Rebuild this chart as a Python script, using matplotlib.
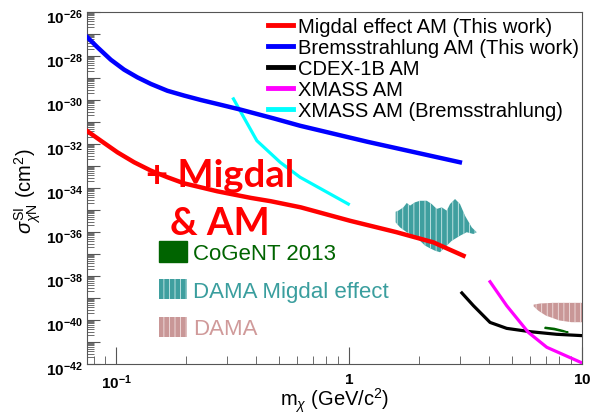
import numpy as np
import matplotlib
matplotlib.use("Agg")
from matplotlib import pyplot as plt
from matplotlib import transforms
from matplotlib.lines import Line2D
from matplotlib.patches import Patch, Polygon
from matplotlib.ticker import LogLocator, FuncFormatter, NullFormatter

plt.rcParams['font.family'] = ['Liberation Sans', 'DejaVu Sans']
plt.rcParams['mathtext.fontset'] = 'custom'
plt.rcParams['mathtext.rm'] = 'Liberation Sans'
plt.rcParams['mathtext.it'] = 'Liberation Sans:italic'
plt.rcParams['mathtext.bf'] = 'Liberation Sans:bold'
plt.rcParams['hatch.linewidth'] = 0.6

# exclusion / allowed curves: mass in GeV, log10 of cross section in cm^2
migdal_m = [0.0753, 0.0860, 0.1014, 0.1195, 0.141, 0.166, 0.196, 0.231, 0.272,
            0.321, 0.379, 0.461, 0.621, 1.01, 1.60, 2.30, 3.10]
migdal_logs = [-31.42, -31.85, -32.38, -32.83, -33.21, -33.51, -33.79, -33.97, -34.15,
               -34.30, -34.45, -34.60, -34.88, -35.49, -36.01, -36.47, -37.08]

brems_m = [0.0753, 0.0831, 0.0949, 0.1082, 0.1234, 0.141, 0.166, 0.196, 0.231,
           0.272, 0.343, 0.476, 0.616, 1.20, 2.99]
brems_logs = [-27.15, -27.60, -28.17, -28.62, -28.97, -29.27, -29.58, -29.80, -30.00,
              -30.18, -30.44, -30.84, -31.17, -31.90, -32.83]

cdex_m = [3.05, 3.42, 4.03, 4.75, 5.98, 7.79, 10.0]
cdex_logs = [-38.77, -39.35, -40.11, -40.38, -40.53, -40.65, -40.71]

xmass_m = [4.03, 4.75, 5.88, 7.06, 10.0]
xmass_logs = [-38.26, -39.35, -40.56, -41.24, -41.95]

xmass_brems_m = [0.319, 0.402, 0.506, 0.616, 0.993]
xmass_brems_logs = [-29.95, -31.85, -32.83, -33.51, -34.73]

# allowed regions (closed contours)
dama_migdal_m = [1.585, 1.628, 1.711, 1.769, 1.827, 1.920, 2.017, 2.156, 2.265,
                 2.379, 2.500, 2.627, 2.713, 2.851, 2.995, 3.147, 3.363, 3.532,
                 3.416, 3.200, 2.995, 2.759, 2.582, 2.458, 2.339, 2.227, 2.120,
                 2.017, 1.888, 1.769, 1.655, 1.585]
dama_migdal_logs = [-35.08, -35.03, -34.88, -34.68, -34.80, -34.65, -34.58, -34.58, -34.73,
                    -34.95, -34.88, -35.03, -34.73, -34.50, -34.73, -35.26, -35.79, -36.01,
                    -36.09, -36.01, -36.17, -36.40, -36.70, -36.92, -36.85, -36.74, -36.62,
                    -36.40, -36.17, -36.01, -35.79, -35.56]

dama_m = [6.2, 6.6, 7.5, 9.0, 10.5, 10.5, 9.0, 8.0, 7.0, 6.5, 6.2]
dama_logs = [-39.30, -39.25, -39.22, -39.22, -39.22, -40.10, -40.10, -40.02, -39.80, -39.58, -39.38]

cogent_m = [6.94, 7.6, 8.3, 8.73, 8.3, 7.6, 6.94]
cogent_logs = [-40.33, -40.38, -40.48, -40.56, -40.53, -40.44, -40.38]

fig = plt.figure(figsize=(5.98, 4.14), dpi=100)
ax = fig.add_axes([87 / 598, 1 - 365 / 414, 495 / 598, 352 / 414])


def sig(logs):
    return 10.0 ** np.asarray(logs)


teal = '#3f9f9f'
rose = '#c99797'

ax.add_patch(Polygon(np.column_stack([dama_migdal_m, sig(dama_migdal_logs)]), closed=True,
                     facecolor=teal, edgecolor='#cfeaea', hatch='|||', linewidth=0, zorder=2))
ax.add_patch(Polygon(np.column_stack([dama_m, sig(dama_logs)]), closed=True,
                     facecolor=rose, edgecolor='#f2e2e2', hatch='|||', linewidth=0, zorder=2))
ax.add_patch(Polygon(np.column_stack([cogent_m, sig(cogent_logs)]), closed=True,
                     facecolor='#006400', edgecolor='#006400', linewidth=1, zorder=2))

ax.plot(xmass_brems_m, sig(xmass_brems_logs), color='#00ffff', lw=2.3, zorder=3)
ax.plot(brems_m, sig(brems_logs), color='#0000ff', lw=3.2, zorder=4, solid_joinstyle='round')
ax.plot(migdal_m, sig(migdal_logs), color='#ff0000', lw=3.2, zorder=4, solid_joinstyle='round')
ax.plot(cdex_m, sig(cdex_logs), color='black', lw=2.3, zorder=3, solid_joinstyle='round')
ax.plot(xmass_m, sig(xmass_logs), color='#ff00ff', lw=2.3, zorder=3, solid_joinstyle='round')

ax.set_xscale('log')
ax.set_yscale('log')
ax.set_xlim(0.075, 10)
ax.set_ylim(1e-42, 1e-26)

# ROOT-like axes: ticks inside, bold powers of ten
ax.yaxis.set_major_locator(LogLocator(base=10, numticks=30))
ax.yaxis.set_minor_locator(LogLocator(base=10, subs=np.arange(2, 10), numticks=30))
ax.yaxis.set_major_formatter(FuncFormatter(
    lambda v, p: r'$\mathbf{10^{%d}}$' % round(np.log10(v)) if round(np.log10(v)) % 2 == 0 else ''))
ax.yaxis.set_minor_formatter(NullFormatter())

ax.xaxis.set_major_locator(LogLocator(base=10, numticks=10))
ax.xaxis.set_minor_locator(LogLocator(base=10, subs=np.arange(2, 10), numticks=10))


def xfmt(v, p):
    e = round(np.log10(v))
    if e == 0:
        return r'$\mathbf{1}$'
    if e == 1:
        return r'$\mathbf{10}$'
    return r'$\mathbf{10^{%d}}$' % e


ax.xaxis.set_major_formatter(FuncFormatter(xfmt))
ax.xaxis.set_minor_formatter(NullFormatter())

ax.tick_params(which='both', direction='in', colors='#555555', labelcolor='black', labelsize=11)
ax.tick_params(axis='x', which='major', length=12, pad=6)
ax.tick_params(axis='x', which='minor', length=6)
ax.tick_params(axis='y', which='major', length=9, pad=3)
ax.tick_params(axis='y', which='minor', length=5)
ax.tick_params(top=False, right=False)
for s in ax.spines.values():
    s.set_color('#555555')

# y labels sit a little below their ticks
shift = transforms.ScaledTranslation(0, -3 / 100, fig.dpi_scale_trans)
for lab in ax.get_yticklabels():
    lab.set_transform(lab.get_transform() + shift)

ax.set_xlabel(r'm$_{\chi}$ (GeV/c$^{2}$)', fontsize=14.5)
ax.set_ylabel(r'$\sigma^{\rm SI}_{\chi\rm N}$ (cm$^{2}$)', fontsize=14.5)
ax.xaxis.set_label_coords(0.5, -0.062)
ax.yaxis.set_label_coords(-0.089, 0.495)

ax.text(0.1345, 10 ** -33.91, '+ Migdal', color='#ff0000', fontsize=27.5, fontweight='bold',
        family='Lato', va='baseline', zorder=5)
ax.text(0.171, 10 ** -36.09, '& AM', color='#ff0000', fontsize=27.5, fontweight='bold',
        family='Lato', va='baseline', zorder=5)

line_handles = [
    Line2D([], [], color='#ff0000', lw=3.5),
    Line2D([], [], color='#0000ff', lw=3.5),
    Line2D([], [], color='black', lw=3.5),
    Line2D([], [], color='#ff00ff', lw=3.5),
    Line2D([], [], color='#00ffff', lw=3.5),
]
line_labels = ['Migdal effect AM (This work)', 'Bremsstrahlung AM (This work)',
               'CDEX-1B AM', 'XMASS AM', 'XMASS AM (Bremsstrahlung)']
leg1 = ax.legend(line_handles, line_labels, loc='upper left',
                 bbox_to_anchor=(268 / 598, 1 - 18 / 414), bbox_transform=fig.transFigure,
                 frameon=False, fontsize=14.5, handlelength=1.25, handletextpad=0.25,
                 labelspacing=0.1, borderpad=0, borderaxespad=0)
ax.add_artist(leg1)

region_handles = [
    Patch(facecolor='#006400', edgecolor='#006400'),
    Patch(facecolor=teal, edgecolor='#cfeaea', hatch='|||', linewidth=0),
    Patch(facecolor=rose, edgecolor='#f2e2e2', hatch='|||', linewidth=0),
]
region_labels = ['CoGeNT 2013', 'DAMA Migdal effect', 'DAMA']
leg2 = ax.legend(region_handles, region_labels, loc='upper left',
                 bbox_to_anchor=(159 / 598, 1 - 242 / 414), bbox_transform=fig.transFigure,
                 frameon=False, fontsize=16, handlelength=1.25, handleheight=1.05,
                 handletextpad=0.3, labelspacing=0.67, borderpad=0, borderaxespad=0)
for t, c in zip(leg2.get_texts(), ['#006400', '#3a9e9e', '#d09a9a']):
    t.set_color(c)

fig.savefig('out.png', dpi=100)
